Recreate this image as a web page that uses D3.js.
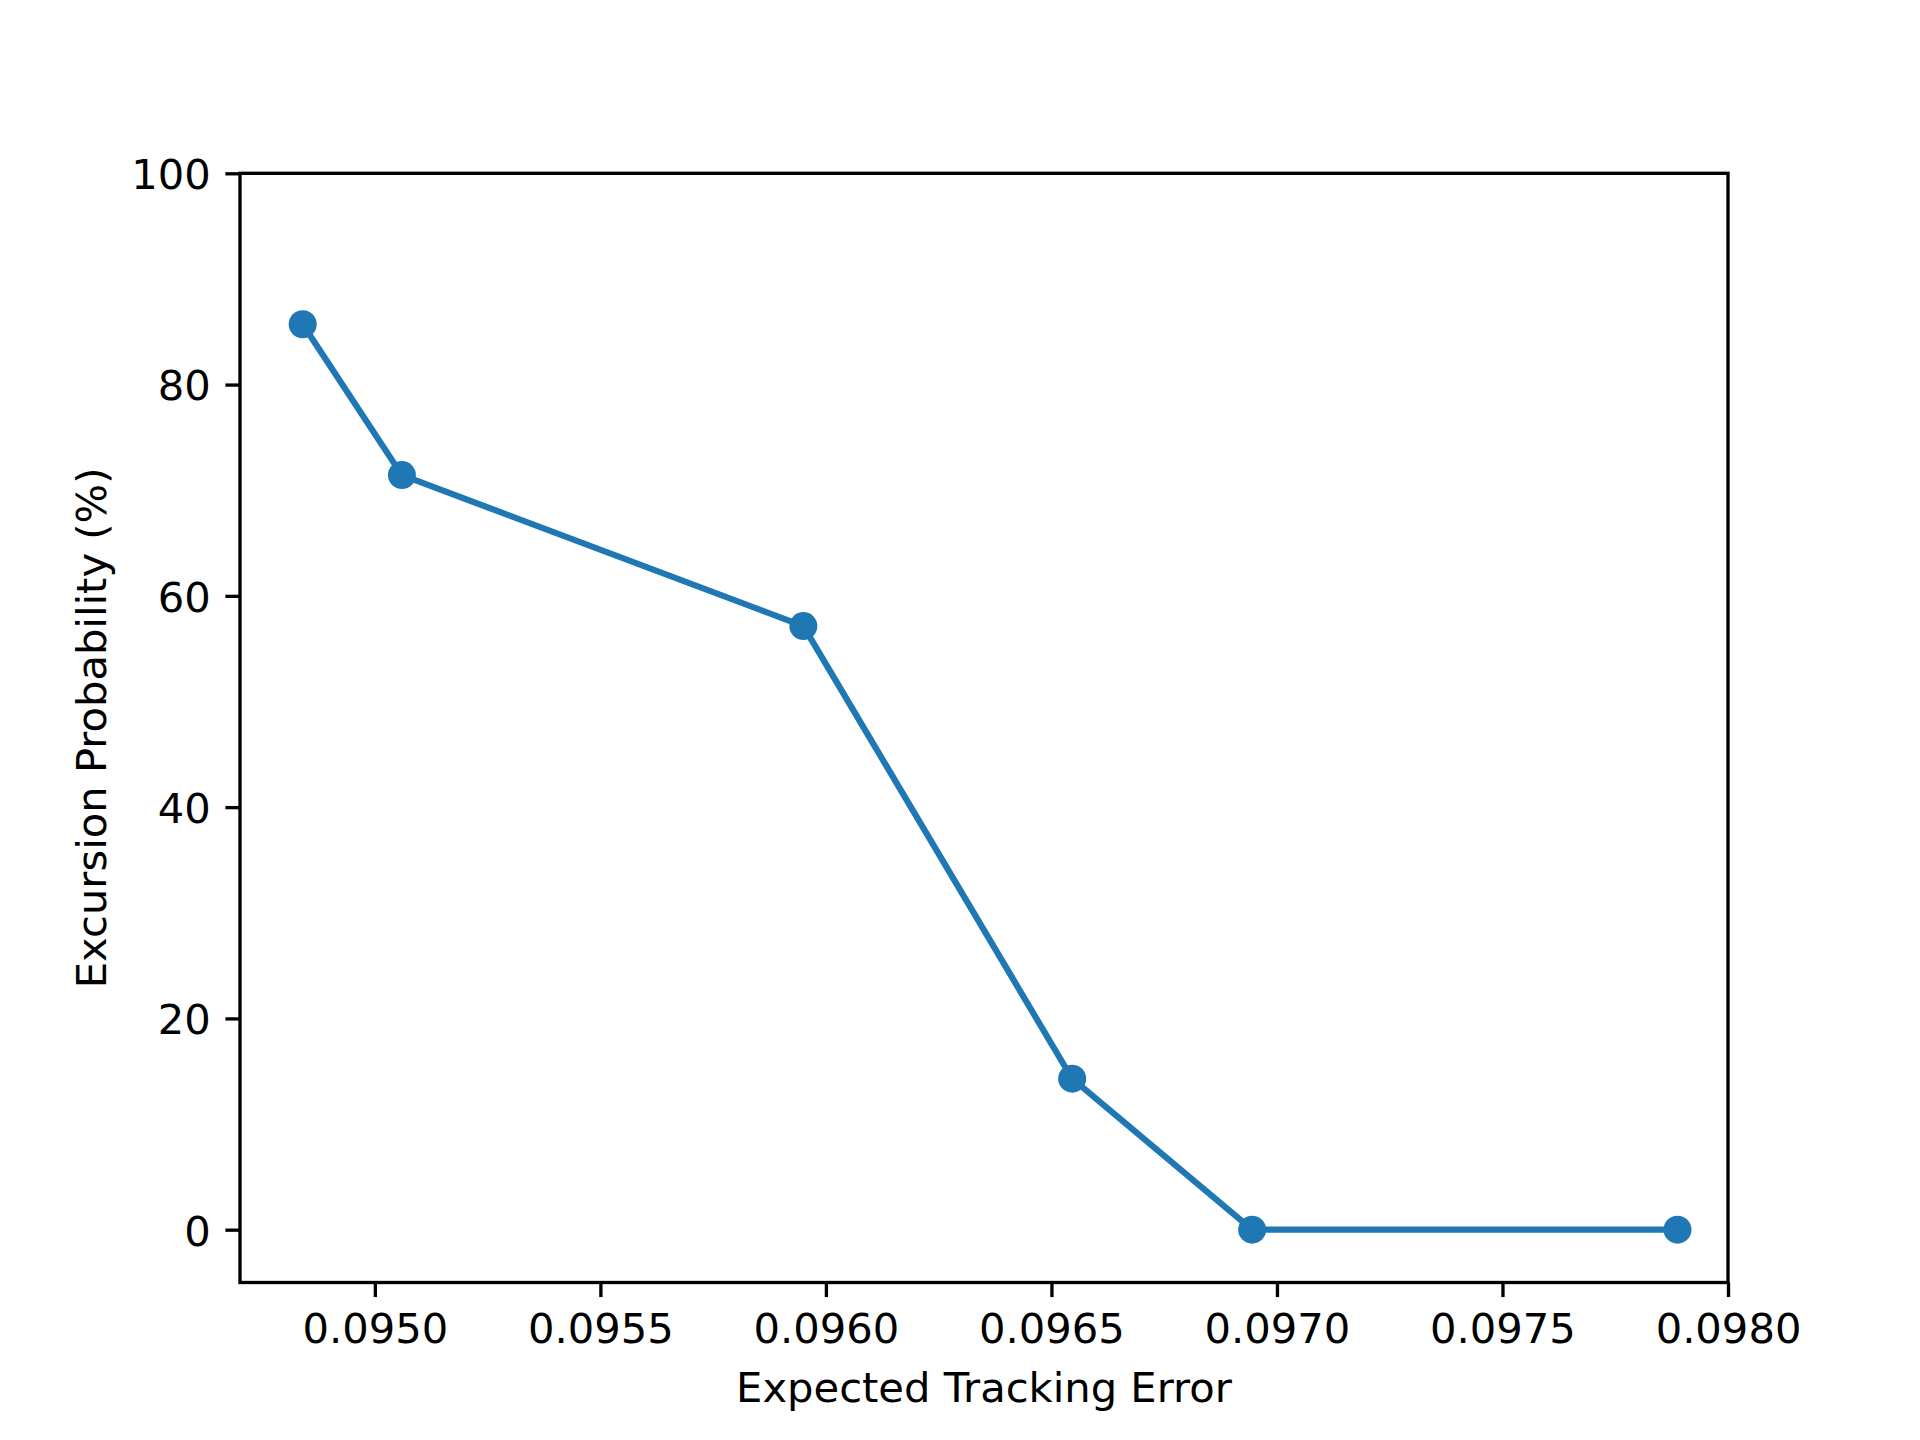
<!DOCTYPE html>
<html>
<head>
<meta charset="utf-8">
<script src="https://cdn.jsdelivr.net/npm/d3@7"></script>
<style>
  body { margin: 0; background: #fff; }
  svg { display: block; font-family: "DejaVu Sans", sans-serif; }
</style>
</head>
<body>
<svg id="chart" width="1920" height="1440"></svg>
<script>
// tracking error vs excursion probability
var trackingError = [0.09484, 0.09506, 0.09595, 0.096546, 0.096945, 0.097888];
var excursionPct = [85.71, 71.43, 57.14, 14.29, 0, 0];
var xTicks = [0.0950, 0.0955, 0.0960, 0.0965, 0.0970, 0.0975, 0.0980];
var yTicks = [0, 20, 40, 60, 80, 100];

var svg = d3.select('#chart'),
    margin = {top: 173.3, right: 192, bottom: 157.5, left: 240},
    width = +svg.attr('width') - margin.left - margin.right,
    height = +svg.attr('height') - margin.top - margin.bottom;

var fontSize = 41.67, tickLen = 14.6, tickPad = 14.6, lw = 3.33;

var x = d3.scaleLinear().domain([0.094701, 0.0980]).range([0, width]);
var y = d3.scaleLinear().domain([-5, 100]).range([height, 0]);

var data = trackingError.map(function(d, i) { return {x: d, y: excursionPct[i]}; });

svg.append('rect').attr('width', 1920).attr('height', 1440).attr('fill', '#fff');

var g = svg.append('g')
    .attr('transform', 'translate(' + margin.left + ',' + margin.top + ')');

var xAxis = g.append('g')
    .attr('class', 'axis axis--x')
    .attr('transform', 'translate(0,' + height + ')')
    .call(d3.axisBottom(x).tickValues(xTicks).tickFormat(d3.format('.4f'))
        .tickSize(tickLen).tickSizeOuter(0).tickPadding(tickPad));

var yAxis = g.append('g')
    .attr('class', 'axis axis--y')
    .call(d3.axisLeft(y).tickValues(yTicks).tickFormat(d3.format('d'))
        .tickSize(tickLen).tickSizeOuter(0).tickPadding(tickPad));

g.selectAll('.axis .domain').remove();
g.selectAll('.axis line').attr('stroke', '#000').attr('stroke-width', lw);
g.selectAll('.axis text')
    .attr('fill', '#000')
    .style('font-size', fontSize + 'px')
    .style('font-family', '"DejaVu Sans", sans-serif');
xAxis.selectAll('text').attr('dy', '0.76em');
yAxis.selectAll('text').attr('dy', '0.37em');

// data line + markers
var line = d3.line()
    .x(function(d) { return x(d.x); })
    .y(function(d) { return y(d.y); });

g.append('path')
    .datum(data)
    .attr('fill', 'none')
    .attr('stroke', '#1f77b4')
    .attr('stroke-width', 6.25)
    .attr('stroke-linejoin', 'round')
    .attr('d', line);

g.selectAll('circle.pt')
    .data(data)
  .enter().append('circle')
    .attr('class', 'pt')
    .attr('cx', function(d) { return x(d.x); })
    .attr('cy', function(d) { return y(d.y); })
    .attr('r', 14)
    .attr('fill', '#1f77b4');

// frame
g.append('rect')
    .attr('width', width)
    .attr('height', height)
    .attr('fill', 'none')
    .attr('stroke', '#000')
    .attr('stroke-width', lw)
    .attr('stroke-linejoin', 'miter');

g.append('text')
    .attr('x', width / 2)
    .attr('y', height + 119.5)
    .attr('text-anchor', 'middle')
    .style('font-size', fontSize + 'px')
    .text('Expected Tracking Error');

g.append('text')
    .attr('transform', 'translate(' + (106 - margin.left) + ',' + (height / 2) + ') rotate(-90)')
    .attr('text-anchor', 'middle')
    .style('font-size', fontSize + 'px')
    .text('Excursion Probability (%)');
</script>
</body>
</html>
